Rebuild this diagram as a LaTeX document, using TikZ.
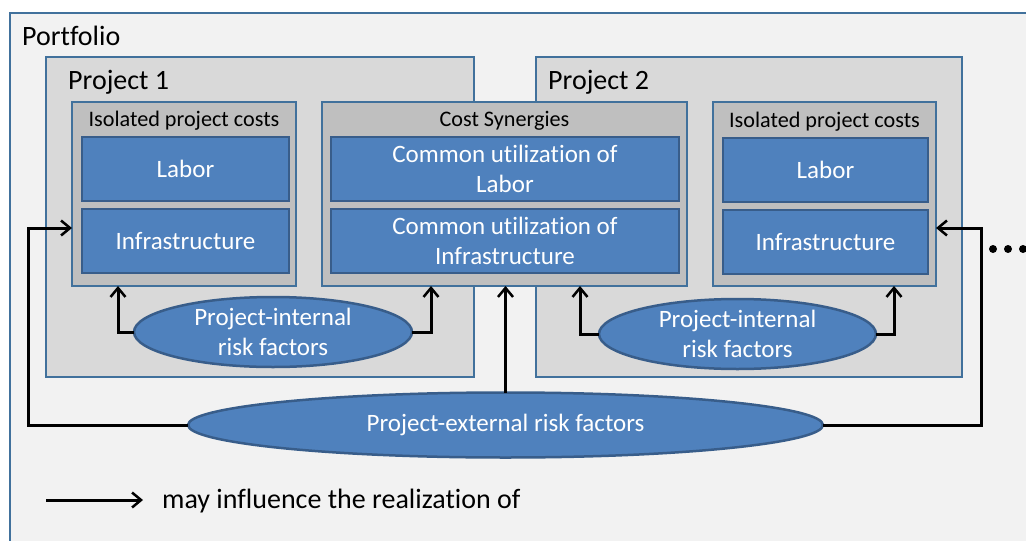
\documentclass[tikz,border=0pt]{standalone}
\usepackage{fontspec}
\setmainfont{Carlito}[Ligatures=NoCommon]
\usetikzlibrary{arrows.meta,shapes.geometric}
\definecolor{pfill}{HTML}{F2F2F2}
\definecolor{prjfill}{HTML}{D9D9D9}
\definecolor{grpfill}{HTML}{BFBFBF}
\definecolor{bfill}{HTML}{4F81BD}
\definecolor{bdraw}{HTML}{385D8A}
\definecolor{odraw}{HTML}{41719C}
\tikzset{
  outerbox/.style={draw=odraw, line width=2pt, fill=pfill, inner sep=0pt, outer sep=0pt},
  prjbox/.style={draw=odraw, line width=2pt, fill=prjfill, inner sep=0pt, outer sep=0pt},
  grpbox/.style={draw=odraw, line width=2pt, fill=grpfill, inner sep=0pt, outer sep=0pt},
  bluebox/.style={draw=bdraw, line width=2.5pt, fill=bfill, inner sep=0pt, outer sep=0pt,
    text=white, align=center, font=\fontsize{25}{30}\selectfont},
  risk/.style={ellipse, draw=bdraw, line width=2.5pt, fill=bfill, inner sep=0pt, outer sep=0pt,
    text=white, align=center, font=\fontsize{25}{30}\selectfont},
  bigtxt/.style={inner sep=0pt, font=\fontsize{28}{32}\selectfont},
  grptxt/.style={inner sep=0pt, font=\fontsize{22.2}{26}\selectfont},
  arr/.style={line width=3pt, -{Straight Barb[length=9pt,width=15pt,line width=2.5pt]}},
  dotc/.style={circle, fill=black, inner sep=0pt, minimum size=8pt}
}
\newcommand{\bx}[6]{\node[#1, minimum width=#4-#2, minimum height=#5-#3] (#6) at ({(#2+#4)/2},{(#3+#5)/2}) {};}
\begin{document}
\begin{tikzpicture}[x=1pt,y=-1pt]
\useasboundingbox (0,0) rectangle (1026,541);
\fill[white] (0,0) rectangle (1026,541);
\clip (0,0) rectangle (1026,541);
% portfolio
\node[outerbox, minimum width=1040, minimum height=560] (pf) at (530,293) {};
\node[bigtxt, anchor=base west] (pft) at (22,45) {Portfolio};
% projects
\bx{prjbox}{46}{57}{474}{377}{p1}
\bx{prjbox}{536}{57}{962}{377}{p2}
\node[bigtxt, anchor=base west] (p1t) at (68,89) {Project 1};
\node[bigtxt, anchor=base west] (p2t) at (548,89) {Project 2};
% groups
\bx{grpbox}{72}{102}{296}{286}{iso1}
\bx{grpbox}{322}{102}{687}{286}{syn}
\bx{grpbox}{713}{102}{936}{286}{iso2}
\node[grptxt, anchor=base] (iso1t) at (184,126) {Isolated project costs};
\node[grptxt, anchor=base] (synt) at (504.5,126) {Cost Synergies};
\node[grptxt, anchor=base] (iso2t) at (824.5,127) {Isolated project costs};
% blue boxes
\node[bluebox, minimum width=207, minimum height=64] (lab1) at (185.5,169) {Labor};
\node[bluebox, minimum width=207, minimum height=64] (inf1) at (185.5,241) {Infrastructure};
\node[bluebox, minimum width=348, minimum height=64] (lab3) at (505,169) {Common utilization of\\Labor};
\node[bluebox, minimum width=348, minimum height=64] (inf3) at (505,241) {Common utilization of\\Infrastructure};
\node[bluebox, minimum width=205, minimum height=64] (lab2) at (825.5,170) {Labor};
\node[bluebox, minimum width=205, minimum height=64] (inf2) at (825.5,242) {Infrastructure};
% risk ellipses
\node[risk, minimum width=278, minimum height=70] (int1) at (273,332) {Project-internal\\risk factors};
\node[risk, minimum width=277, minimum height=70] (int2) at (737.5,334) {Project-internal\\risk factors};
\node[risk, minimum width=635, minimum height=65] (ext) at (505.5,425) {Project-external risk factors};
% connectors
\coordinate (a1) at (118,0);
\coordinate (a2) at (431,0);
\coordinate (a3) at (580,0);
\coordinate (a4) at (894,0);
\draw[arr] (int1.west) -| (a1 |- iso1.south);
\draw[arr] (int1.east) -| (a2 |- syn.south);
\draw[arr] (int2.west) -| (a3 |- syn.south);
\draw[arr] (int2.east) -| (a4 |- iso2.south);
\draw[arr] (ext.north) -- (ext.north |- syn.south);
\coordinate (l1) at (28,228);
\coordinate (r1) at (981,228);
\draw[arr] (ext.west) -| (l1) -- (l1 -| iso1.west);
\draw[arr] (ext.east) -| (r1) -- (r1 -| iso2.east);
% dots
\node[dotc] (d1) at (993,249) {};
\node[dotc] (d2) at (1008,249) {};
\node[dotc] (d3) at (1023,249) {};
% legend
\coordinate (lgs) at (46,500);
\coordinate (lge) at (143,500);
\draw[arr] (lgs) -- (lge);
\node[bigtxt, anchor=west] (lgt) at (162,501) {may influence the realization of};
\end{tikzpicture}
\end{document}
